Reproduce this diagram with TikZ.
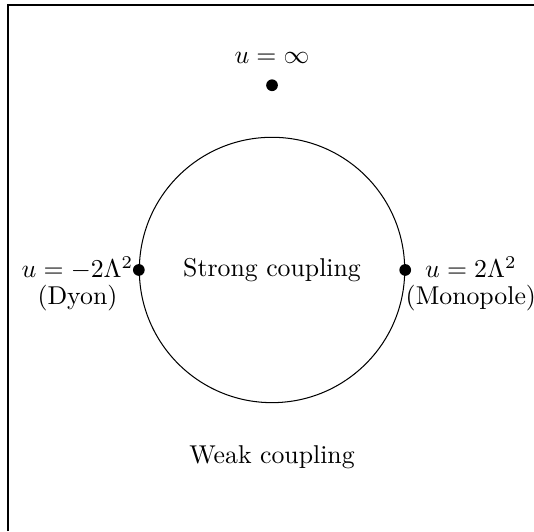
\documentclass[tikz,border=0pt]{standalone}
\usetikzlibrary{positioning}
\begin{document}
\begin{tikzpicture}[
  point/.style={circle, fill, inner sep=0pt, minimum size=0.16cm},
  region/.style={draw, circle, minimum size=3.62cm, inner sep=0pt},
  tag/.style={align=center, inner sep=0pt}
]
\useasboundingbox (-3.711,-3.561) rectangle (3.574,3.683);
\draw[line width=0.5pt] (-3.602,-3.561) |- (3.574,3.615);

\node[region] (strong) at (0,0) {Strong coupling};
\node (weak) at (0,-2.55) {Weak coupling};

\node[point] (inf) at (0,2.52) {};
\node[point] (dyon) at (strong.west) {};
\node[point] (mono) at (strong.east) {};

\node[above=0.08cm of inf] (infl) {$u=\infty$};
\node[tag, anchor=east] (dyonl) at ([xshift=-0.07cm, yshift=-0.19cm]dyon.center) {$u=-2\Lambda^2$\\[-1.5pt](Dyon)};
\node[tag, anchor=west] (monol) at ([yshift=-0.19cm]mono.center) {$u=2\Lambda^2$\\[-1.5pt](Monopole)};
\end{tikzpicture}
\end{document}
